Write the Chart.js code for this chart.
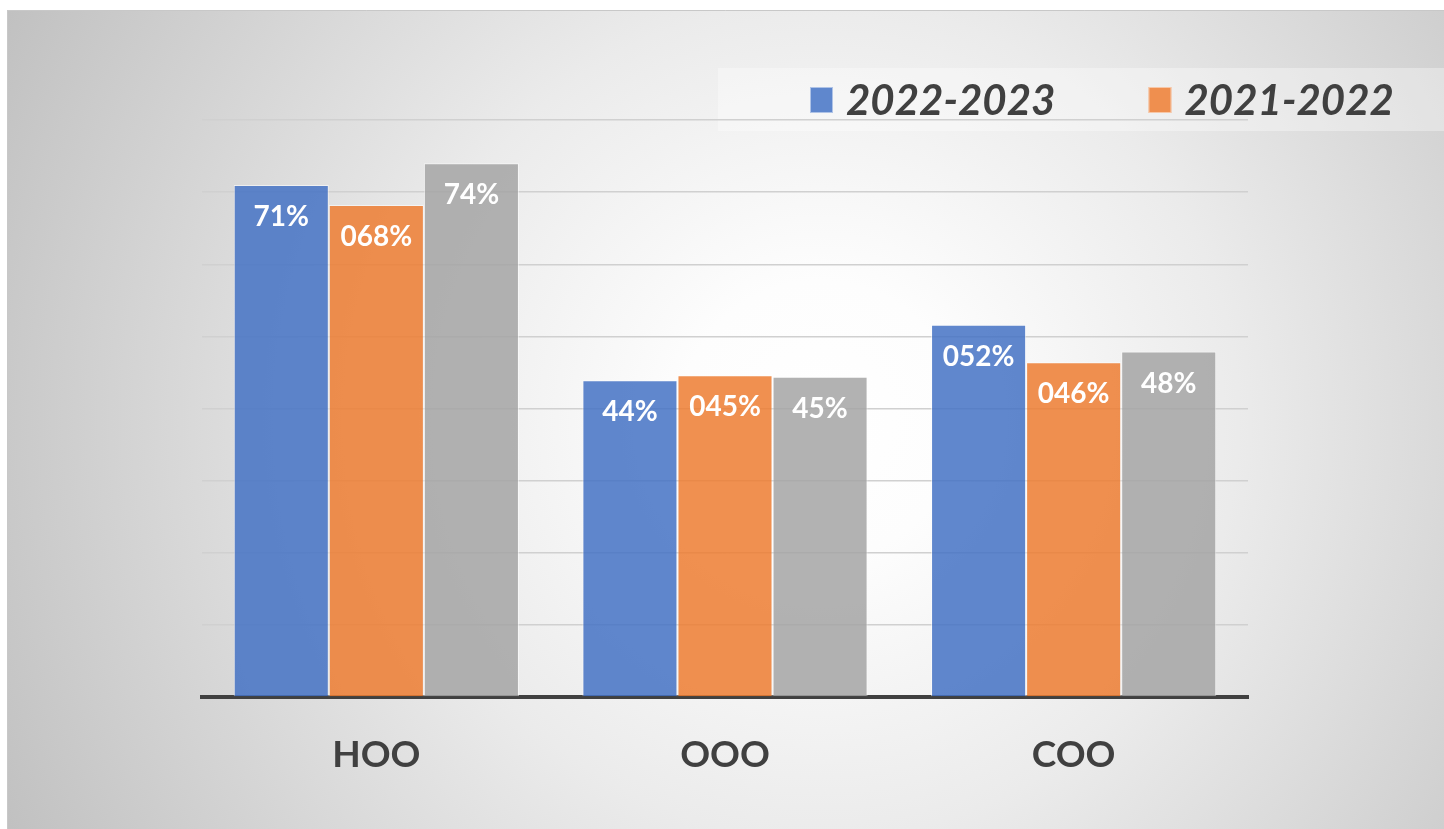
<!DOCTYPE html>
<html>
<head>
<meta charset="utf-8">
<script src="https://cdn.jsdelivr.net/npm/chart.js@4.4.0/dist/chart.umd.min.js"></script>
<style>
  html, body { margin: 0; padding: 0; background: #ffffff; }
  #wrap { position: absolute; left: 0; top: 0; width: 1444px; height: 829px; }
</style>
</head>
<body>
<div id="wrap"><canvas id="myChart" width="1444" height="829"></canvas></div>
<script>
// data
const categories = ["HOO", "OOO", "COO"];
const seriesNames = ["2022-2023", "2021-2022", ""];
const values2223 = [71.0, 43.9, 51.6];
const values2122 = [68.2, 44.6, 46.4];
const valuesGray = [74.0, 44.4, 47.9];
const labels2223 = ["71%", "44%", "052%"];
const labels2122 = ["068%", "045%", "046%"];
const labelsGray = ["74%", "45%", "48%"];
const yTicks = [0, 10, 20, 30, 40, 50, 60, 70, 80];

const TEXT = "#404040";

// background frame + legend band
const backgroundPlugin = {
    id: "bg",
    beforeDraw(chart) {
        const c = chart.ctx;
        c.save();
        c.fillStyle = "#ffffff";
        c.fillRect(0, 0, chart.width, chart.height);
        const g = c.createRadialGradient(820, 420, 0, 820, 420, 930);
        g.addColorStop(0, "#ffffff");
        g.addColorStop(0.15, "#fdfdfd");
        g.addColorStop(0.45, "#ebebeb");
        g.addColorStop(1, "#bfbfbf");
        c.fillStyle = g;
        c.fillRect(7, 10, chart.width - 7, chart.height - 10);
        c.strokeStyle = "#c8c8c8";
        c.lineWidth = 1;
        c.beginPath();
        c.moveTo(7.5, chart.height);
        c.lineTo(7.5, 10.5);
        c.lineTo(chart.width, 10.5);
        c.stroke();
        // legend band
        c.fillStyle = "rgba(255,255,255,0.35)";
        c.fillRect(718, 68, chart.width - 718, 63);
        c.restore();
    }
};

// legend drawn from the datasets that have a name
const legendPlugin = {
    id: "myLegend",
    afterDraw(chart) {
        const c = chart.ctx;
        c.save();
        c.font = "italic bold 42px Lato";
        c.textBaseline = "middle";
        c.textAlign = "left";
        let x = 810;
        chart.data.datasets.forEach(ds => {
            if (!ds.label) return;
            c.fillStyle = ds.swatch;
            c.fillRect(x, 87, 23, 26);
            c.strokeStyle = "rgba(255,255,255,0.5)";
            c.lineWidth = 1;
            c.strokeRect(x + 0.5, 87.5, 22, 25);
            c.fillStyle = TEXT;
            c.fillText(ds.label, x + 36, 101);
            x += 36 + c.measureText(ds.label).width + 93;
        });
        c.restore();
    }
};

// white value labels inside the top of each bar
const valueLabelPlugin = {
    id: "valueLabels",
    afterDatasetsDraw(chart) {
        const c = chart.ctx;
        c.save();
        c.font = "bold 28px Lato";
        c.fillStyle = "#ffffff";
        c.textAlign = "center";
        c.textBaseline = "middle";
        chart.data.datasets.forEach((ds, i) => {
            const meta = chart.getDatasetMeta(i);
            meta.data.forEach((bar, j) => {
                c.fillText(ds.valueLabels[j], bar.x, bar.y + 32);
            });
        });
        c.restore();
    }
};

new Chart(document.getElementById("myChart"), {
    type: "bar",
    data: {
        labels: categories,
        datasets: [
            { label: seriesNames[0], data: values2223, valueLabels: labels2223,
              backgroundColor: "rgba(68,114,196,0.85)", swatch: "#5f87cd" },
            { label: seriesNames[1], data: values2122, valueLabels: labels2122,
              backgroundColor: "rgba(237,125,49,0.85)", swatch: "#ef8f4f" },
            { label: seriesNames[2], data: valuesGray, valueLabels: labelsGray,
              backgroundColor: "rgba(165,165,165,0.85)", swatch: "#b2b2b2" }
        ].map(d => Object.assign(d, {
            borderColor: "rgba(255,255,255,0.55)",
            borderWidth: 1,
            borderSkipped: "bottom",
            categoryPercentage: 0.818,
            barPercentage: 1.0
        }))
    },
    options: {
        responsive: false,
        animation: false,
        events: [],
        layout: { padding: { left: 202, right: 196, top: 120, bottom: 0 } },
        plugins: {
            legend: { display: false },
            tooltip: { enabled: false }
        },
        scales: {
            x: {
                grid: { display: false },
                border: { display: true, color: TEXT, width: 4 },
                ticks: {
                    color: TEXT,
                    font: { family: "Lato", weight: "bold", size: 37 },
                    padding: 28
                },
                afterFit(scale) { scale.height = 132; }
            },
            y: {
                min: 0,
                max: 80,
                afterBuildTicks(scale) { scale.ticks = yTicks.map(v => ({ value: v })); },
                ticks: { display: false },
                border: { display: false },
                grid: {
                    drawTicks: false,
                    lineWidth: 1.5,
                    color: ctx => ctx.tick && ctx.tick.value === 0 ? "rgba(0,0,0,0)" : "#d0d0d0"
                },
                afterFit(scale) { scale.width = 0; }
            }
        }
    },
    plugins: [backgroundPlugin, legendPlugin, valueLabelPlugin]
});
</script>
</body>
</html>
